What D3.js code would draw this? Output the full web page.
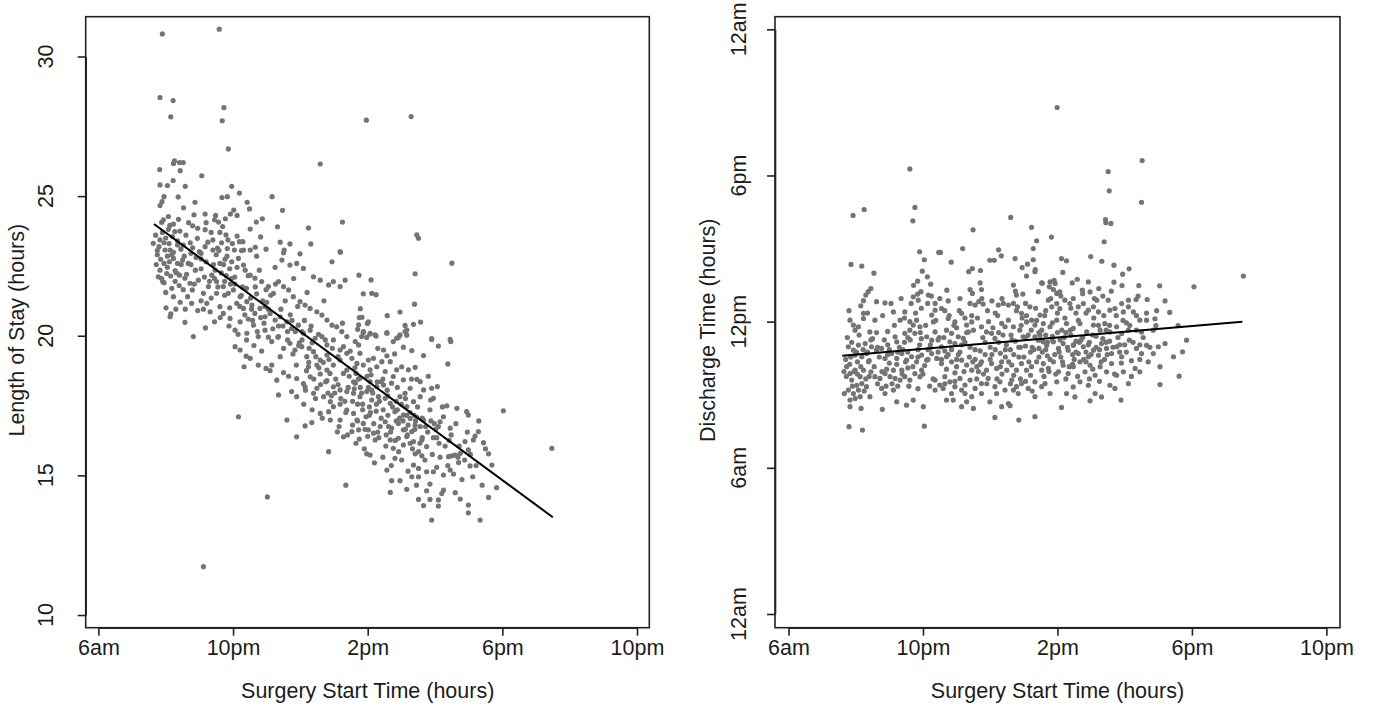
<!DOCTYPE html>
<html>
<head>
<meta charset="utf-8">
<script src="https://cdn.jsdelivr.net/npm/d3@7/dist/d3.min.js"></script>
<style>
  body { margin: 0; background: #fff; }
  text { font-family: "Liberation Sans", Arial, sans-serif; fill: #1c1c1c; }
</style>
</head>
<body>
<div id="chart"></div>
<script>
// tick values (hours) and their printed labels
var xTicks = [6, 10, 14, 18, 22];
var xTickLabels = ['6am', '10pm', '2pm', '6pm', '10pm'];
var losTicks = [10, 15, 20, 25, 30];
var dischargeTicks = [0, 6, 12, 18, 24];
var dischargeTickLabels = ['12am', '6am', '12pm', '6pm', '12am'];

// fitted lines, [start hour, value]
var losFit = [[7.65, 24.0], [19.5, 13.5]];
var dischargeFit = [[7.6, 10.6], [19.5, 12.0]];

// left panel: [surgery start hour, length of stay hours]
var losPoints = [
  [7.90,30.81],[9.59,30.98],[7.83,28.53],[8.22,28.42],[8.15,27.84],[9.73,28.17],[9.68,27.70],[9.86,26.69],[12.59,26.15],[8.23,26.17],
  [8.26,26.26],[8.41,26.20],[8.52,26.20],[7.82,25.95],[8.43,25.91],[9.07,25.73],[7.83,25.40],[8.05,25.38],[8.22,25.56],[8.58,25.35],
  [9.96,25.35],[9.67,24.95],[9.83,24.98],[10.19,25.11],[11.16,24.98],[7.95,24.98],[7.89,24.80],[7.83,24.66],[8.37,24.97],[8.53,24.58],
  [8.87,24.78],[10.42,24.78],[10.49,24.54],[11.47,24.49],[8.84,24.33],[9.17,24.36],[9.48,24.31],[9.92,24.36],[10.12,24.31],[10.02,24.50],
  [10.87,24.19],[10.69,24.07],[13.25,24.07],[9.57,24.07],[9.77,24.19],[8.80,23.94],[8.38,24.17],[8.08,24.27],[7.93,24.15],[7.88,24.06],
  [8.23,24.00],[8.27,23.73],[8.08,23.81],[9.17,23.80],[9.61,23.70],[9.79,23.61],[9.85,23.43],[10.12,23.57],[10.19,23.37],[10.29,23.37],
  [10.51,23.82],[10.82,23.54],[11.32,23.90],[12.24,23.86],[12.31,23.29],[11.40,23.35],[11.69,23.29],[11.52,23.07],[10.98,23.10],[10.66,23.17],
  [10.51,23.07],[13.19,22.99],[7.63,23.31],[7.83,23.43],[7.95,23.33],[7.80,23.19],[7.98,23.07],[8.13,23.07],[8.23,22.99],[8.73,23.33],
  [8.94,23.49],[9.17,23.19],[9.40,23.43],[9.66,23.33],[9.40,23.07],[9.83,23.12],[9.69,23.91],[9.00,23.01],[9.54,23.14],[10.04,23.07],
  [10.31,23.07],
  [7.85,22.74],[7.95,22.59],[8.11,22.65],[8.23,22.77],[8.35,22.59],[8.50,22.71],[8.67,22.59],[7.83,22.35],[7.78,22.11],[7.91,21.94],
  [8.03,22.23],[8.15,22.14],[8.28,22.33],[8.41,22.17],[8.18,21.70],[8.23,21.40],[8.43,21.20],[8.01,21.00],[8.15,20.78],[8.13,20.68],
  [8.57,20.48],[8.82,19.97],[9.18,20.28],[8.57,22.06],[8.72,21.88],[8.79,21.64],[8.77,21.16],[8.97,21.99],[9.12,21.52],[9.27,21.76],
  [9.22,21.16],[9.32,20.86],[9.51,21.52],[9.61,21.04],[9.71,20.80],[9.47,22.35],[9.61,22.59],[9.76,22.74],[9.96,22.65],[10.16,22.77],
  [10.31,22.53],[9.37,22.17],[9.51,21.94],[9.71,21.76],[9.86,21.52],[10.01,21.64],[10.21,21.40],[10.11,21.16],[10.31,20.98],[10.41,21.22],
  [10.56,21.10],[10.65,20.80],[10.80,20.98],[10.95,20.68],[11.10,20.80],[11.25,20.56],[11.40,20.68],[11.60,20.50],[11.74,20.26],[11.94,20.38],
  [12.09,20.09],[12.29,20.20],[12.44,19.91],[12.64,19.97],[12.79,19.67],[12.98,19.85],[13.18,19.49],[13.38,19.37],
  [10.36,22.35],[10.51,22.17],[10.65,22.06],[10.85,21.94],[11.05,21.76],[11.20,21.52],[11.35,21.94],[11.50,21.76],[11.65,21.64],[11.79,21.40],
  [11.99,21.22],[12.14,21.10],[12.29,20.98],[12.49,20.86],[12.64,20.74],[12.79,20.56],[12.94,20.38],[13.08,20.32],[13.23,20.15],[13.38,19.97],
  [11.45,22.71],[11.69,22.53],[11.89,22.59],[12.09,22.41],[12.39,22.11],[12.59,21.99],[12.84,21.82],[12.98,21.94],[13.18,21.76],[13.33,21.99],
  [12.94,22.65],[13.18,23.01],[11.50,22.97],[11.99,22.93],
  [9.91,20.62],[10.06,20.20],[10.21,20.50],[10.41,20.09],[10.61,20.38],[10.75,19.97],[10.95,20.20],[11.15,19.79],[11.35,19.97],[11.50,19.55],
  [11.69,19.73],[11.84,19.49],[12.04,19.61],[12.19,19.25],[12.39,19.43],[12.59,19.13],[12.79,19.31],[12.98,18.95],[13.18,19.13],[13.38,18.77],
  [13.28,19.61],
  [10.06,19.61],[10.21,19.49],[10.39,19.27],[10.51,19.19],[10.75,18.95],[10.98,18.83],[11.10,18.75],[10.33,18.89],[11.50,18.68],[11.89,18.47],
  [12.09,18.29],[12.29,18.53],[12.59,18.63],[12.79,18.39],[12.98,18.17],[13.18,18.06],[13.38,18.00],[12.24,18.89],[12.49,18.95],[12.79,18.77],
  [11.30,18.41],[11.35,17.88],[11.74,18.00],[11.89,17.82],[12.39,17.94],[12.69,17.82],[12.89,17.64],[12.98,17.46],[13.18,17.55],[13.38,17.34],
  [12.14,18.17],[12.49,18.12],[11.60,16.98],[12.14,16.77],[12.34,16.89],[12.59,17.22],[12.89,16.98],[13.10,16.56],[13.28,16.38],[13.18,16.98],
  [12.84,17.28],[11.89,16.38],[12.84,15.85],[13.35,14.65],[10.16,17.10],[11.02,14.23],[9.12,11.73],
  [7.70,23.60],[7.75,22.90],[7.90,23.70],[8.00,23.50],[8.10,23.30],[8.20,23.55],[8.35,23.40],[8.45,23.10],[8.55,22.85],[8.60,23.60],
  [8.90,22.80],[9.05,22.40],[9.20,22.65],[9.35,23.70],[9.50,22.90],[9.90,22.40],[10.05,22.10],[10.40,21.70],[10.70,21.50],[11.00,21.20],
  [8.40,21.80],[8.65,21.40],[8.95,20.90],[9.45,20.50],[9.90,21.00],[10.45,20.60],[7.95,21.90],[8.30,20.95],[9.05,21.25],[9.80,22.15],
  [13.96,27.72],[15.29,27.85],[15.46,23.61],[15.51,23.49],[16.50,22.60],[13.74,22.17],[14.10,22.00],[15.41,22.22],[13.87,21.50],[14.12,21.52],
  [14.25,21.47],[13.78,20.97],[15.39,21.13],[13.83,20.66],[14.96,20.85],[14.58,20.72],[14.02,20.50],[13.99,20.44],[13.70,20.23],[13.73,20.39],
  [15.57,20.49],[15.36,20.41],[15.11,20.37],[15.16,20.21],[13.87,20.12],[14.07,20.09],[14.25,19.99],[13.97,19.94],[14.57,20.09],[14.91,19.94],
  [15.16,20.02],[15.90,19.90],[16.45,19.87],
  [13.87,20.15],[14.07,20.06],[14.22,20.03],[14.57,20.11],[14.86,19.91],[14.96,20.03],[15.11,20.15],[14.76,19.79],[13.63,19.79],[13.73,19.67],
  [13.82,19.97],[15.90,19.87],[16.10,19.63],[16.47,19.79],[16.38,18.99],[15.66,19.29],[15.31,19.47],[15.06,19.59],[14.47,19.49],[14.57,19.28],
  [14.67,19.07],[14.42,19.07],[14.17,19.19],[14.02,19.13],[13.77,19.37],[13.68,19.01],[13.53,19.19],[13.87,18.95],[14.07,18.78],[14.27,18.89],
  [14.52,18.72],[14.76,18.54],[14.86,18.78],[15.01,18.89],[15.21,18.78],[15.41,18.87],[15.46,18.44],[15.56,18.36],[15.06,18.42],[14.71,18.30],
  [14.47,18.24],[14.27,18.18],[14.07,18.36],[13.77,18.48],[13.63,18.30],[13.58,17.94],[13.77,17.82],[13.97,18.00],[14.12,17.70],[14.32,17.82],
  [14.52,17.76],[14.67,17.58],[14.81,17.28],[14.96,17.82],[15.11,17.94],[15.26,18.12],[15.36,17.64],[15.56,17.82],[15.66,18.06],[15.90,18.12],
  [16.07,18.18],[15.95,17.76],[15.87,17.70],[15.16,17.46],[15.06,17.16],[15.26,17.04],[15.46,17.08],[15.66,16.98],[15.56,16.75],[15.41,16.80],
  [15.31,16.57],[15.06,16.63],[14.91,16.86],[14.71,16.69],[14.52,16.92],[14.37,16.75],[14.17,16.51],[14.02,16.63],[13.87,16.86],[13.68,16.98],
  [13.58,17.22],[13.53,16.57],[13.73,16.63],[14.22,16.27],[14.67,16.27],[14.91,16.33],[15.16,16.39],[15.36,16.21],[15.61,16.27],[15.75,16.03],
  [15.51,15.85],[15.26,16.15],[15.06,16.09],[14.76,15.97],[15.41,15.77],[15.61,15.70],
  [16.35,17.49],[16.65,17.40],[16.94,17.28],[16.99,17.16],[16.25,17.10],[16.15,16.92],[16.10,16.75],[16.45,16.69],[18.03,17.31],[16.89,16.21],
  [17.14,16.27],[17.29,16.57],[17.44,16.17],[17.19,16.41],[19.47,15.97],
  [13.97,15.77],[14.07,15.73],[14.81,15.61],[15.01,15.55],[14.57,15.19],[15.36,15.37],[15.51,15.25],[15.75,15.13],[15.95,15.13],[16.05,15.29],
  [16.25,15.01],[16.45,15.19],[16.50,15.70],[16.40,15.67],[16.60,15.73],[16.70,15.46],[16.75,15.79],[16.99,15.91],[17.04,15.34],[17.59,15.77],
  [17.69,15.37],[17.83,14.56],[14.71,14.81],[14.96,14.81],[15.31,14.95],[15.51,14.95],[15.85,14.69],[15.16,14.50],[14.67,14.39],[16.25,14.47],
  [16.60,14.38],[15.51,14.14],[15.85,14.14],[16.10,14.12],[15.66,13.92],[16.10,13.90],[16.99,13.94],[16.99,13.66],[17.59,14.21],[17.34,13.40],
  [15.90,13.40],
  [13.60,18.10],[13.70,17.55],[13.85,17.35],[13.95,17.10],[14.05,17.45],[14.15,17.95],[14.25,17.30],[14.40,17.05],[14.45,18.45],[14.60,17.15],
  [13.55,16.80],[13.75,16.30],[14.00,16.40],[14.30,16.55],[14.55,16.45],[14.85,16.95],[15.00,17.55],[15.20,16.80],[14.10,18.60],[13.65,18.65],
  [8.05,22.45],[8.18,22.90],[8.32,22.25],[8.46,22.55],[8.62,22.20],[8.75,22.95],[8.88,22.35],[8.12,23.95],[8.42,23.75],[8.68,24.05],
  [8.95,23.85],[8.28,21.95],[8.52,21.65],[8.85,21.85],[7.72,22.55],[7.88,22.05],[8.00,21.55],[8.58,20.95],[8.35,23.25],[8.80,23.15],
  [9.05,22.95],[9.15,22.10],[9.25,23.35],[9.30,21.95],[9.42,22.55],[9.55,21.75],[9.58,23.05],[9.65,22.25],[9.75,21.45],[9.82,22.85],
  [9.92,21.85],[9.98,23.30],[9.12,20.95],[9.35,21.35],[9.62,20.65],[9.88,20.35],[9.20,24.05],[9.45,24.15],[9.72,22.55],[9.95,22.05],
  [10.05,21.85],[10.12,22.45],[10.20,21.05],[10.28,21.75],[10.35,20.75],[10.45,22.15],[10.52,21.35],[10.58,20.55],[10.66,21.75],[10.72,20.15],
  [10.78,22.35],[10.88,21.25],[10.92,20.45],[10.98,21.65],[10.15,20.05],[10.40,19.85],[10.62,19.65],[10.85,19.45],[10.25,23.05],[10.70,22.85],
  [11.05,20.95],[11.12,21.45],[11.18,20.25],[11.26,21.85],[11.33,19.95],[11.42,20.95],[11.48,20.35],[11.55,21.25],[11.62,19.85],[11.70,20.75],
  [11.78,19.35],[11.85,20.15],[11.92,21.05],[11.97,19.75],[11.15,18.95],[11.40,19.25],[11.65,18.55],[11.88,18.95],[11.25,22.45],[11.80,22.05],
  [12.05,19.85],[12.12,20.55],[12.18,18.75],[12.26,19.55],[12.32,20.35],[12.40,18.45],[12.46,19.25],[12.54,20.05],[12.60,18.25],[12.68,19.05],
  [12.74,19.85],[12.82,17.95],[12.88,18.65],[12.95,19.55],[12.10,17.55],[12.35,17.35],[12.65,17.05],[12.92,17.85],[12.20,21.55],[12.70,21.25],
  [13.05,18.45],[13.12,19.25],[13.20,17.75],[13.28,18.65],[13.35,17.25],[13.42,18.15],[13.48,19.45],[13.55,17.65],[13.62,18.85],[13.70,16.95],
  [13.78,18.15],[13.85,17.55],[13.92,16.65],[13.98,18.55],[13.15,16.75],[13.40,16.45],[13.65,16.15],[13.90,15.95],[13.25,20.45],[13.75,20.65],
  [14.05,17.15],[14.12,18.05],[14.18,16.85],[14.26,17.55],[14.33,16.35],[14.40,18.35],[14.46,17.35],[14.54,16.05],[14.60,17.85],[14.68,16.55],
  [14.74,17.45],[14.82,16.25],[14.88,18.15],[14.95,17.05],[14.20,15.45],[14.45,15.65],[14.70,15.35],[14.92,15.85],[14.30,19.55],[14.80,19.35],
  [15.05,16.95],[15.12,17.75],[15.18,16.45],[15.26,17.25],[15.33,15.95],[15.40,16.65],[15.48,17.45],[15.55,16.15],[15.62,17.05],[15.70,15.55],
  [15.78,16.55],[15.85,17.35],[15.92,15.75],[15.98,16.85],[15.20,15.15],[15.45,14.65],[15.75,14.45],[15.95,16.35],[15.30,18.45],[15.80,18.55],
  [16.05,16.35],[16.15,15.65],[16.22,17.45],[16.30,16.05],[16.38,15.35],[16.48,16.45],[16.55,15.05],[16.62,16.85],[16.72,16.05],[16.80,14.85],
  [16.88,15.55],[16.96,16.55],[17.05,15.75],[17.12,14.95],[17.22,15.35],[17.30,16.95],[17.40,14.65],[17.50,15.95],[16.20,14.35],[16.75,14.15],
  [12.15,18.05],[12.45,17.75],[12.75,18.35],[13.02,17.95],[13.32,17.65],[13.58,18.35],[13.82,17.95],[14.08,17.25],[14.35,17.65],[14.62,16.75],
  [14.88,17.35],[15.12,16.65],[15.38,17.15],[15.62,16.35],[15.88,16.95],[16.12,16.15],[16.42,16.25],[16.68,15.65],[12.25,19.05],[12.55,18.85],
  [12.85,19.15],[13.12,18.25],[13.45,18.55],[13.72,18.45],[14.02,18.15],[14.28,18.35],[14.58,18.05],[14.85,17.65],[15.15,17.15],[15.42,16.95],
  [15.72,16.75],[16.02,16.65],[11.05,19.95],[11.35,20.35],[11.62,20.15],[11.95,19.65],[10.55,20.95],[10.82,20.65],[9.45,22.05],[9.75,21.95],
  [9.05,22.75],[8.52,23.25],[8.75,22.55],[8.05,22.85],[7.75,23.05],[10.25,21.45],[10.95,21.05],[11.75,20.55],[12.05,20.15],[12.35,19.75]
];

// right panel: [surgery start hour, discharge clock time in hours]
var dischargePoints = [
  [9.61,18.27],[7.92,16.36],[8.25,16.60],[9.76,16.69],[9.70,16.14],[12.61,16.28],[13.23,15.87],[13.38,15.32],[11.49,15.77],[11.18,15.00],
  [9.90,14.87],[10.47,14.84],[10.52,14.84],[10.04,14.54],[10.84,14.44],[11.99,14.52],[12.12,14.52],[12.25,14.95],[12.33,14.70],[12.74,14.59],
  [13.28,15.00],[13.28,14.54],[12.95,14.22],[13.11,14.36],[13.08,13.87],[13.34,14.14],[13.33,14.05],[7.86,14.35],[8.18,14.28],[8.54,13.99],
  [9.98,14.07],[10.13,13.84],[11.36,14.05],[11.47,14.18],[11.71,14.10],[10.23,13.54],[9.72,13.49],[9.84,13.66],[13.55,13.58],[11.40,13.32],
  [11.47,13.16],[11.70,13.59],[11.74,13.32],[11.66,12.82],[11.79,12.72],[11.55,12.68],[12.69,13.50],[12.97,13.13],[12.78,13.09],[13.43,13.23],
  [8.37,13.23],[8.30,13.09],[8.45,13.36],[8.23,12.86],[8.62,12.82],[8.87,12.77],[9.84,13.13],[9.71,13.02],[9.86,12.88],[9.94,13.23],
  [10.16,13.09],[10.14,12.75],[10.36,12.75],[10.50,12.95],[10.55,12.54],[10.71,13.29],[10.36,12.47],[10.75,12.13],[10.95,11.99],[11.15,12.34],
  [11.30,11.86],[11.45,11.99],[11.50,11.65],[11.35,11.58],[12.24,12.68],[12.39,12.75],[12.54,12.68],[12.69,12.75],[12.81,12.61],[12.93,12.34],
  [13.08,11.99],[13.23,12.06],[13.33,11.86],[13.53,11.65],[13.48,12.27],[13.18,12.61],[7.83,12.06],[7.93,11.86],[8.08,11.79],[7.98,11.65],
  [8.42,11.58],[8.23,12.34],[8.23,12.13],[8.57,12.06],[9.12,12.40],[9.32,12.06],[9.46,12.40],[9.61,12.00],[9.71,11.86],[9.81,12.06],
  [9.61,11.65],[9.76,11.52],[9.91,11.79],[9.17,11.38],[9.22,11.17],[9.46,11.52],[10.26,12.27],[10.31,11.99],[10.11,11.38],[10.26,11.24],
  [10.36,11.58],[10.70,11.65],[10.85,11.52],[11.05,11.38],[11.20,11.31],[10.80,11.17],[10.95,11.10],[10.55,10.97],[11.74,11.79],[11.89,11.58],
  [12.04,11.52],[12.14,11.31],[12.34,11.93],[12.44,11.79],[12.54,12.06],[12.69,11.79],[12.88,11.65],[12.98,11.38],[13.13,11.45],[13.33,11.38],
  [13.43,11.24],[13.58,11.17],
  [7.78,10.97],[7.93,10.83],[8.08,11.04],[8.28,11.10],[7.98,10.63],[8.18,10.56],[8.32,10.69],[8.47,10.97],[8.62,10.83],[8.77,10.90],
  [8.87,10.49],[7.73,10.15],[7.83,9.87],[7.98,10.01],[8.13,9.74],[8.23,10.01],[7.88,9.60],[8.03,9.39],[8.18,9.46],[7.78,9.19],
  [7.93,9.05],[8.08,9.19],[7.66,9.05],[7.83,8.78],[7.98,8.85],[8.13,8.92],[8.32,9.33],[7.83,8.51],[8.16,8.44],[8.42,8.92],
  [8.79,8.40],[8.45,9.94],[8.57,9.74],[8.72,9.67],[8.87,9.87],[9.02,9.74],[9.17,9.67],[9.32,9.60],[9.46,9.74],[9.61,9.60],
  [9.12,10.01],[9.37,10.01],[9.76,9.87],[9.96,10.01],[9.91,9.74],[8.77,9.26],[8.87,9.05],[9.12,9.19],[9.22,8.71],[9.51,8.57],
  [9.71,8.78],[10.01,8.51],[10.04,7.71],[7.80,7.69],[8.20,7.55],
  [9.07,10.69],[9.22,10.49],[9.37,10.69],[9.51,10.42],[9.66,10.56],[9.81,10.35],[9.96,10.63],[10.11,10.42],[10.26,10.69],[10.41,10.49],
  [10.55,10.28],[10.70,10.56],[10.85,10.35],[11.00,10.15],[11.15,10.42],[11.30,10.22],[11.45,10.01],[11.60,10.15],[11.74,10.35],[11.89,10.01],
  [12.04,10.28],[12.19,10.08],[12.34,10.35],[12.49,10.01],[12.64,10.22],[12.78,10.01],[12.93,10.28],[13.08,10.01],[13.23,10.15],[13.38,10.35],
  [13.53,10.01],
  [10.36,9.60],[10.50,9.40],[10.65,9.74],[10.80,9.53],[10.95,9.33],[11.10,9.67],[11.25,9.40],[11.40,9.60],[11.55,9.26],[11.74,9.46],
  [11.94,9.67],[12.14,9.33],[12.29,9.53],[12.44,9.19],[12.64,9.60],[12.78,9.33],[12.93,9.46],[13.13,9.26],[13.33,9.53],[13.53,9.33],
  [10.36,9.19],[10.60,9.26],[10.85,9.05],[11.15,9.19],[11.30,8.71],[11.45,8.92],[11.74,9.05],[11.99,8.71],[12.19,9.05],[12.34,8.51],
  [12.54,8.64],[12.69,9.19],[12.83,9.05],[13.33,8.92],[10.70,8.78],[10.90,8.78],[11.50,8.44],[12.14,8.07],[12.85,7.96],[13.33,8.10],
  [12.59,8.55],[11.15,8.51],
  [8.50,11.30],[8.95,11.05],[9.40,10.85],[9.90,11.05],[10.20,10.90],[10.65,10.80],[11.10,10.75],[11.40,10.95],[11.70,10.80],[12.00,10.95],
  [12.30,10.70],[12.60,10.85],[12.90,10.95],[13.20,10.75],[13.45,10.90],[9.00,10.30],[9.55,10.10],[10.05,10.20],[10.95,9.90],[11.80,9.85],
  [12.70,9.80],[13.20,9.80],[8.40,10.40],[8.95,11.60],[9.95,11.30],[11.00,11.75],[11.95,12.00],[12.25,11.15],[12.75,11.20],[13.05,11.00],
  [13.99,20.79],[16.52,18.61],[15.51,18.16],[15.54,17.37],[16.50,16.90],[15.43,16.19],[15.44,16.06],[15.59,16.03],[15.39,15.28],[13.82,15.47],
  [14.12,14.59],[14.27,14.50],[14.99,14.67],[15.32,14.48],[15.68,14.32],[16.13,14.17],[15.94,13.95],[14.16,14.02],[19.53,13.87],[18.06,13.43],
  [17.04,13.47],[16.42,13.48],[15.92,13.48],[15.68,13.62],[15.23,13.36],[13.53,13.59],[13.78,13.63],[13.90,13.70],[13.93,13.57],[13.76,13.43],
  [13.88,13.32],[13.98,13.16],[14.07,13.22],[14.44,13.59],[14.59,13.74],[14.74,13.29],[14.92,13.63],[14.97,13.22],[13.73,12.88],[13.83,12.61],
  [13.98,12.74],[14.07,12.54],[14.22,12.88],[14.37,12.74],[14.47,12.95],[14.62,12.61],[14.77,12.74],[14.92,12.47],[15.07,12.61],[15.17,12.88],
  [15.22,12.40],[15.51,12.88],[15.56,12.47],[15.71,12.54],[15.91,12.74],[15.96,12.40],[16.11,12.88],[16.34,12.91],[16.67,12.91],[16.11,12.61],
  [16.26,12.40],[16.45,12.06],[16.65,12.06],[16.90,12.12],[17.20,12.85],[17.34,12.38],[16.93,11.84],[17.59,11.84],
  [13.58,11.92],[13.78,11.79],[13.98,12.06],[14.13,11.65],[14.27,11.92],[14.47,11.72],[14.67,11.92],[14.87,11.58],[15.07,11.86],[15.27,11.65],
  [15.41,11.92],[15.56,11.58],[15.76,11.79],[15.91,11.51],[16.11,11.65],[16.35,11.65],[16.50,11.58],
  [13.53,11.24],[13.68,11.03],[13.88,11.17],[14.03,10.90],[14.17,11.10],[14.32,10.83],[14.47,11.03],[14.62,10.69],[14.77,10.97],[14.92,10.56],
  [15.07,10.83],[15.22,10.62],[15.31,11.10],[15.46,10.90],[15.61,10.69],[15.76,10.97],[15.91,10.56],[16.14,11.24],[16.35,10.90],[16.50,10.69],
  [16.65,11.03],[16.85,10.69],[17.00,10.97],[17.20,11.10],[17.05,10.15],[17.45,10.56],[17.72,10.76],[17.84,11.24],
  [13.58,10.28],[13.73,10.08],[13.88,10.35],[14.03,9.94],[14.17,10.21],[14.32,9.87],[14.47,10.15],[14.67,10.35],[14.82,9.94],[14.97,10.21],
  [15.12,9.80],[15.27,10.15],[15.46,9.94],[15.61,10.28],[15.76,9.80],[15.96,9.94],[16.11,9.46],[16.31,10.08],[16.45,9.94],[17.05,9.42],
  [17.62,9.76],
  [13.63,9.46],[13.78,9.05],[13.98,9.53],[14.27,9.05],[14.47,9.32],[14.67,9.53],[14.92,9.39],[15.12,9.05],[15.31,8.91],[15.56,9.39],
  [15.71,9.26],[14.97,8.75],[15.89,8.78],[14.12,8.48],[14.52,8.91],
  [13.65,11.45],[13.85,11.40],[14.00,11.55],[14.20,11.35],[14.40,11.45],[14.55,11.20],[14.75,11.35],[14.95,11.15],[15.15,11.40],[15.35,11.30],
  [15.55,11.20],[15.80,11.35],[16.00,11.05],[13.70,10.60],[14.10,10.55],[14.50,10.45],[14.85,10.75],[15.40,10.45],[15.90,10.30],[16.20,10.40],
  [7.70,10.45],[7.75,11.35],[7.82,10.25],[7.88,11.15],[7.95,9.95],[8.02,10.75],[8.10,11.45],[8.15,10.15],[8.22,10.85],[8.30,9.65],
  [8.38,10.35],[8.45,11.25],[7.72,9.75],[7.90,9.35],[8.05,9.85],[8.25,9.15],[8.40,9.75],[7.80,12.45],[8.15,12.65],[8.35,12.35],
  [8.55,10.15],[8.62,11.55],[8.70,10.55],[8.78,9.95],[8.85,11.25],[8.92,10.05],[9.00,10.85],[9.08,9.45],[9.15,11.85],[9.22,10.25],
  [9.30,10.95],[9.38,9.85],[9.45,11.15],[8.65,9.45],[8.90,9.35],[9.25,9.35],[8.80,12.25],[9.05,12.75],[9.35,12.95],[9.48,10.35],
  [9.55,10.75],[9.62,11.25],[9.70,10.15],[9.78,12.35],[9.85,10.55],[9.92,11.55],[10.00,9.85],[10.08,11.85],[10.15,10.45],[10.22,11.05],
  [10.30,9.65],[10.38,12.05],[10.45,10.75],[9.58,9.35],[9.85,9.25],[10.20,9.35],[9.65,12.75],[9.95,12.55],[10.25,13.05],[10.48,11.35],
  [10.55,10.45],[10.62,11.35],[10.70,10.05],[10.78,12.25],[10.85,10.85],[10.92,11.85],[11.00,10.45],[11.08,12.45],[11.15,11.05],[11.22,9.95],
  [11.30,11.55],[11.38,10.55],[11.45,12.25],[10.65,9.45],[10.95,9.55],[11.25,9.05],[10.75,12.85],[11.10,12.95],[11.40,12.75],[11.48,10.35],
  [11.55,10.85],[11.62,12.15],[11.70,10.25],[11.78,11.35],[11.85,10.65],[11.92,12.45],[12.00,10.45],[12.08,11.75],[12.15,10.85],[12.22,12.25],
  [12.30,10.15],[12.38,11.45],[12.45,10.55],[11.60,9.65],[11.90,9.45],[12.20,9.65],[11.75,12.95],[12.05,12.85],[12.35,12.95],[12.48,11.05],
  [12.55,10.35],[12.62,11.45],[12.70,10.65],[12.78,12.45],[12.85,10.95],[12.92,11.85],[13.00,10.55],[13.08,12.25],[13.15,10.35],[13.22,11.65],
  [13.30,10.85],[13.38,12.05],[13.45,10.55],[12.60,9.45],[12.90,9.65],[13.25,9.15],[12.75,13.25],[13.05,12.75],[13.35,12.55],[13.48,11.45],
  [13.55,10.75],[13.62,12.25],[13.70,11.15],[13.78,10.45],[13.85,11.95],[13.92,10.65],[14.00,12.35],[14.08,11.25],[14.15,10.35],[14.22,12.15],
  [14.30,10.95],[14.38,11.65],[14.45,10.25],[13.60,9.75],[13.95,9.85],[14.25,9.65],[13.80,12.95],[14.10,13.05],[14.40,12.55],[14.48,11.05],
  [14.55,10.75],[14.62,12.05],[14.70,11.25],[14.78,10.45],[14.85,12.35],[14.92,11.05],[15.00,10.65],[15.08,12.15],[15.15,10.95],[15.22,11.85],
  [15.30,10.35],[15.38,12.25],[15.45,11.15],[14.60,9.75],[14.95,9.65],[15.25,9.55],[14.75,13.15],[15.10,12.95],[15.35,13.05],[15.48,10.65],
  [15.55,11.85],[15.65,10.95],[15.75,12.25],[15.85,11.05],[15.95,12.05],[16.05,10.75],[16.15,11.85],[16.25,11.15],[16.35,12.25],[16.45,10.45],
  [16.55,11.35],[16.65,12.35],[16.75,10.95],[16.85,11.65],[16.95,12.45],[15.70,9.85],[16.20,9.75],[16.70,10.35],[15.60,13.25],[16.40,13.05],
  [11.05,10.65],[11.25,11.15],[11.55,10.45],[11.85,11.15],[12.05,10.65],[12.25,11.55],[12.45,10.85],[12.65,11.25],[12.85,10.55],[13.05,11.35],
  [13.25,10.95],[13.45,11.55],[13.65,10.85],[13.85,11.25],[14.05,10.75],[14.25,11.55],[14.45,10.65],[14.65,11.15],[14.85,10.35],[15.05,11.45],
  [15.25,10.85],[15.45,11.65],[10.15,10.85],[10.45,11.25],[10.75,10.65],[9.85,10.85],[9.55,11.35],[9.25,10.75],[8.95,10.65],[8.65,10.95],
  [8.35,10.75],[8.05,10.35],[7.85,10.55],[7.65,9.95],[11.65,9.95],[12.35,9.85],[13.05,9.55],[13.75,9.95],[14.35,10.15],[15.05,10.05],
  [12.15,12.35],[12.95,12.15],[13.65,12.45],[14.55,12.35],[11.25,12.15],[10.65,12.45],[9.45,12.15],[15.85,10.75],[16.45,11.05],[16.05,11.95]
];

var svg = d3.select('#chart').append('svg')
  .attr('width', 1373)
  .attr('height', 709);

function drawPanel(p) {
  var x = d3.scaleLinear().domain([6, 22]).range(p.xRange);
  var y = d3.scaleLinear().domain(p.yDomain).range(p.yRange);
  var g = svg.append('g');

  // frame
  g.append('rect')
    .attr('x', p.box[0]).attr('y', p.box[1])
    .attr('width', p.box[2] - p.box[0]).attr('height', p.box[3] - p.box[1])
    .attr('fill', 'none').attr('stroke', '#222').attr('stroke-width', 1.6);

  g.selectAll('circle')
    .data(p.points)
    .enter()
    .append('circle')
    .attr('cx', d => x(d[0]))
    .attr('cy', d => y(d[1]))
    .attr('r', 2.6)
    .style('fill', '#747474');

  g.append('line')
    .attr('x1', x(p.fit[0][0])).attr('y1', y(p.fit[0][1]))
    .attr('x2', x(p.fit[1][0])).attr('y2', y(p.fit[1][1]))
    .attr('stroke', '#000').attr('stroke-width', 2);

  var xAxis = g.append('g')
    .attr('transform', 'translate(0,' + p.box[3] + ')')
    .call(d3.axisBottom(x).tickValues(xTicks).tickFormat((d, i) => xTickLabels[i])
      .tickSize(8).tickSizeOuter(0).tickPadding(4));
  xAxis.selectAll('path, line').attr('stroke', '#222').attr('stroke-width', 1.6);
  xAxis.selectAll('text').attr('font-size', '21.5px').attr('fill', '#1c1c1c')
    .style('font-family', '"Liberation Sans", Arial, sans-serif');

  var yAxis = g.append('g')
    .attr('transform', 'translate(' + p.box[0] + ',0)')
    .call(d3.axisLeft(y).tickValues(p.yTicks).tickFormat('').tickSize(8).tickSizeOuter(0));
  yAxis.selectAll('path, line').attr('stroke', '#222').attr('stroke-width', 1.6);

  g.selectAll('.ylab')
    .data(p.yTicks)
    .enter()
    .append('text')
    .attr('class', 'ylab')
    .attr('transform', d => 'translate(' + (p.box[0] - p.labelGap) + ',' + y(d) + ') rotate(-90)')
    .attr('text-anchor', 'middle')
    .attr('font-size', '21.5px')
    .text((d, i) => p.yTickLabels[i]);

  g.append('text')
    .attr('x', (p.xRange[0] + p.xRange[1]) / 2)
    .attr('y', 698)
    .attr('text-anchor', 'middle')
    .attr('font-size', '21.5px')
    .text('Surgery Start Time (hours)');

  g.append('text')
    .attr('transform', 'translate(' + (p.box[0] - p.titleGap) + ',' + ((p.box[1] + p.box[3]) / 2 + 8) + ') rotate(-90)')
    .attr('text-anchor', 'middle')
    .attr('font-size', '21.5px')
    .text(p.yTitle);
}

drawPanel({
  points: losPoints, fit: losFit,
  xRange: [98.4, 637], yDomain: [10, 30], yRange: [615, 56.5],
  box: [85.7, 16.7, 649.3, 627.7],
  yTicks: losTicks, yTickLabels: losTicks.map(String),
  labelGap: 33, titleGap: 62,
  yTitle: 'Length of Stay (hours)'
});

drawPanel({
  points: dischargePoints, fit: dischargeFit,
  xRange: [788.5, 1326.4], yDomain: [0, 24], yRange: [614, 29.3],
  box: [775, 16.7, 1340, 627.7],
  yTicks: dischargeTicks, yTickLabels: dischargeTickLabels,
  labelGap: 29, titleGap: 60,
  yTitle: 'Discharge Time (hours)'
});
</script>
</body>
</html>
